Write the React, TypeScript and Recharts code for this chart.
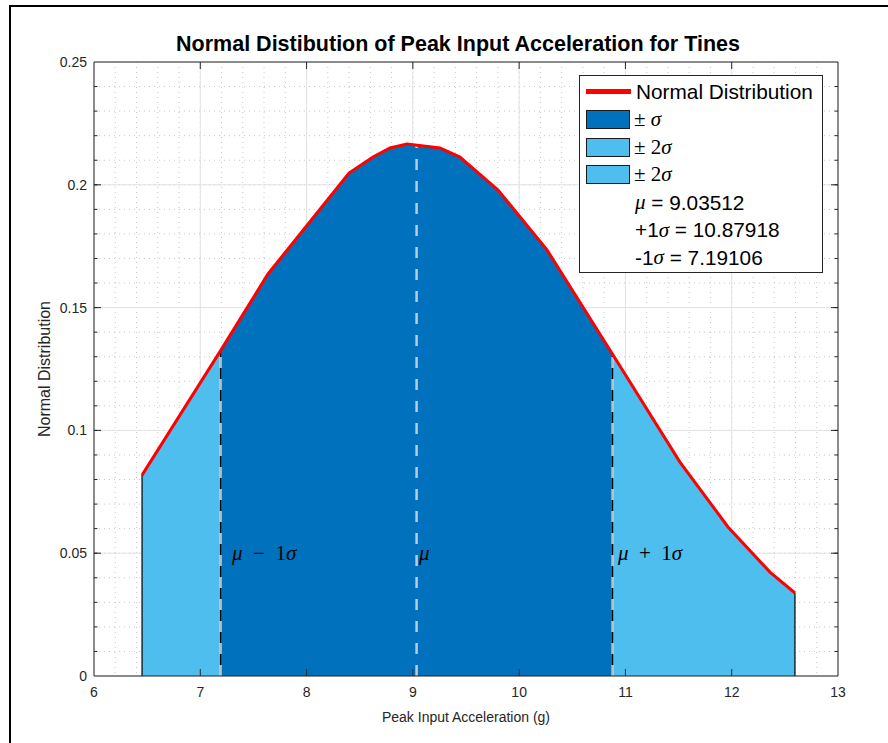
import React from 'react';
import { ComposedChart, Area, Line, XAxis, YAxis, CartesianGrid, ReferenceLine, ReferenceDot, Legend } from 'recharts';

// sample points (x in g, y = normal pdf)
const peakAccel = [6.452, 7.19106, 7.637, 8.399, 8.625, 8.785, 8.945, 9.255, 9.443, 9.801, 10.262, 10.87918, 11.513, 11.965, 12.36, 12.595];
const normalPdf = [0.0818, 0.1325, 0.1637, 0.2048, 0.2113, 0.215, 0.2166, 0.215, 0.2113, 0.1979, 0.1735, 0.131, 0.0871, 0.0607, 0.0423, 0.0338];

const mu = 9.03512;
const muPeak = 0.2164;
const minusSigma = 7.19106;
const plusSigma = 10.87918;

const xDomain = [6, 13];
const yDomain = [0, 0.25];
const xTicks = [6, 7, 8, 9, 10, 11, 12, 13];
const yTicks = [0, 0.05, 0.1, 0.15, 0.2, 0.25];
const xMinorStep = 0.2;
const yMinorStep = 0.01;

const labelXs = [7.308, 9.067, 10.939];
const labelY = 0.05;

const legendNames = ['Normal Distribution', '\u00b1\u00a0', '\u00b1\u00a02', '\u00b1\u00a02'];
const statValues = ['9.03512', '10.87918', '7.19106'];

const DARK = '#0072BD';
const LIGHT = '#4DBEEE';
const AXIS = '#262626';
const SANS = '"Liberation Sans", Arial, Helvetica, sans-serif';
const SERIF = '"Liberation Serif", "Times New Roman", serif';

const data = peakAccel.map((x, i) => ({
  x,
  pdf: normalPdf[i],
  left: x <= minusSigma ? normalPdf[i] : null,
  mid: x >= minusSigma && x <= plusSigma ? normalPdf[i] : null,
  right: x >= plusSigma ? normalPdf[i] : null,
}));

const xMinor: number[] = [];
for (let v = xDomain[0] + xMinorStep; v < xDomain[1] - 1e-6; v += xMinorStep) xMinor.push(+v.toFixed(2));
const yMinor: number[] = [];
for (let v = yDomain[0] + yMinorStep; v < yDomain[1] - 1e-6; v += yMinorStep) yMinor.push(+v.toFixed(3));

const iLow = peakAccel.indexOf(minusSigma);
const iHigh = peakAccel.indexOf(plusSigma);
const last = peakAccel.length - 1;

const edges = [
  { x: peakAccel[0], y: normalPdf[0] },
  { x: minusSigma, y: normalPdf[iLow] },
  { x: plusSigma, y: normalPdf[iHigh] },
  { x: peakAccel[last], y: normalPdf[last] },
];
const dashed = [
  { x: minusSigma, y: normalPdf[iLow] },
  { x: mu, y: muPeak },
  { x: plusSigma, y: normalPdf[iHigh] },
];

const labelParts = [
  [['\u03bc', true], ['\u2002\u2212\u20021', false], ['\u03c3', true]],
  [['\u03bc', true]],
  [['\u03bc', true], ['\u2002+\u20021', false], ['\u03c3', true]],
] as [string, boolean][][];

const mathLabel = (parts: [string, boolean][]) => (props: any) => {
  const vb = props.viewBox || {};
  return (
    <text x={vb.x} y={(vb.y ?? 0) + (vb.height ?? 0) / 2} dy={7} fontFamily={SERIF} fontSize={21} fill="#000">
      {parts.map(([t, it], k) => (
        <tspan key={k} fontStyle={it ? 'italic' : 'normal'}>{t}</tspan>
      ))}
    </text>
  );
};

// inward tick marks on both opposite edges of the plot box
const tickShape = (len: number, vertical: boolean) => (p: any) => {
  if (vertical) {
    const top = Math.min(p.y1, p.y2);
    const bot = Math.max(p.y1, p.y2);
    return (
      <g stroke={AXIS} strokeWidth={1}>
        <line x1={p.x1} x2={p.x1} y1={bot} y2={bot - len} />
        <line x1={p.x1} x2={p.x1} y1={top} y2={top + len} />
      </g>
    );
  }
  const l = Math.min(p.x1, p.x2);
  const r = Math.max(p.x1, p.x2);
  return (
    <g stroke={AXIS} strokeWidth={1}>
      <line x1={l} x2={l + len} y1={p.y1} y2={p.y1} />
      <line x1={r} x2={r - len} y1={p.y1} y2={p.y1} />
    </g>
  );
};

const Swatch = ({ color }: { color: string }) => (
  <span style={{ display: 'inline-block', width: 44, height: 19, background: color, border: '1px solid #1a1a1a', boxSizing: 'border-box', marginRight: 4 }} />
);

const rowStyle: React.CSSProperties = { height: 27.7, display: 'flex', alignItems: 'center', whiteSpace: 'nowrap' };
const sig = <span style={{ fontFamily: SERIF, fontStyle: 'italic', fontSize: 21 }}>{'\u03c3'}</span>;

const LegendBox = () => (
  <div style={{ width: 244, height: 198, border: `1px solid ${AXIS}`, background: '#fff', boxSizing: 'border-box', padding: '2px 0 0 6px', fontFamily: SANS, fontSize: 20.8, color: '#000' }}>
    <div style={rowStyle}>
      <span style={{ display: 'inline-block', width: 45, height: 5, background: '#ff0000', marginRight: 5 }} />
      {legendNames[0]}
    </div>
    {[DARK, LIGHT, LIGHT].map((c, i) => (
      <div key={i} style={rowStyle}>
        <Swatch color={c} />
        <span style={{ fontFamily: SERIF, fontSize: 21 }}>{legendNames[i + 1]}</span>
        {sig}
      </div>
    ))}
    <div style={{ ...rowStyle, paddingLeft: 49 }}>
      <span style={{ fontFamily: SERIF, fontStyle: 'italic', fontSize: 21 }}>{'\u03bc'}</span>&nbsp;= {statValues[0]}
    </div>
    <div style={{ ...rowStyle, paddingLeft: 49 }}>
      +1{sig}&nbsp;= {statValues[1]}
    </div>
    <div style={{ ...rowStyle, paddingLeft: 49 }}>
      -1{sig}&nbsp;= {statValues[2]}
    </div>
  </div>
);

// minor grid positions, mapped onto the plot box the chart hands us
const minorX = ({ offset }: any) =>
  xMinor.map((v) => offset.left + ((v - xDomain[0]) / (xDomain[1] - xDomain[0])) * offset.width);
const minorY = ({ offset }: any) =>
  yMinor.map((v) => offset.top + offset.height - ((v - yDomain[0]) / (yDomain[1] - yDomain[0])) * offset.height);

export default function App() {
  return (
    <div style={{ position: 'absolute', left: 0, top: 0, width: 888, height: 743, background: '#fff', overflow: 'hidden' }}>
      <div style={{ position: 'absolute', left: 9, top: 5, right: -10, bottom: -10, borderTop: '2px solid #000', borderLeft: '2px solid #000' }} />
      <div style={{ position: 'absolute', left: 72, width: 772, top: 34, textAlign: 'center', fontFamily: SANS, fontWeight: 'bold', fontSize: 21.5, lineHeight: '21px', color: '#000' }}>
        Normal Distibution of Peak Input Acceleration for Tines
      </div>
      <ComposedChart width={888} height={743} data={data} margin={{ top: 62, right: 50, bottom: 17, left: 34 }} style={{ position: 'absolute', left: 0, top: 0 }}>
        <CartesianGrid stroke="#c8c8c8" strokeDasharray="1 4" verticalCoordinatesGenerator={minorX} horizontalCoordinatesGenerator={minorY} />
        <CartesianGrid stroke="#e2e2e2" />
        <XAxis
          dataKey="x"
          type="number"
          domain={xDomain}
          ticks={xTicks}
          allowDataOverflow
          height={50}
          tickLine={false}
          tickSize={0}
          tickMargin={11}
          stroke={AXIS}
          tick={{ fill: AXIS, fontSize: 14, fontFamily: SANS }}
          label={{ value: 'Peak Input Acceleration (g)', position: 'insideBottom', offset: 4, fill: AXIS, fontSize: 14, fontFamily: SANS }}
        />
        <YAxis
          type="number"
          domain={yDomain}
          ticks={yTicks}
          allowDataOverflow
          width={60}
          tickLine={false}
          tickSize={0}
          tickMargin={7}
          stroke={AXIS}
          tick={{ fill: AXIS, fontSize: 14, fontFamily: SANS }}
          label={{ value: 'Normal Distribution', angle: -90, position: 'insideLeft', offset: 10, fill: AXIS, fontSize: 16, fontFamily: SANS, style: { textAnchor: 'middle' } }}
        />
        <Area dataKey="left" type="linear" stroke="#000" strokeWidth={1} fill={LIGHT} fillOpacity={1} isAnimationActive={false} />
        <Area dataKey="mid" type="linear" stroke="#000" strokeWidth={1} fill={DARK} fillOpacity={1} isAnimationActive={false} />
        <Area dataKey="right" type="linear" stroke="#000" strokeWidth={1} fill={LIGHT} fillOpacity={1} isAnimationActive={false} />
        {edges.map((e, i) => (
          <ReferenceLine key={'e' + i} segment={[{ x: e.x, y: 0 }, { x: e.x, y: e.y }]} stroke="#000" strokeWidth={1.2} />
        ))}
        {dashed.map((e, i) => (
          <ReferenceLine key={'d' + i} segment={[{ x: e.x, y: 0 }, { x: e.x, y: e.y }]} stroke="#dcdcdc" strokeOpacity={0.85} strokeWidth={2.5} strokeDasharray="11 11" />
        ))}
        <Line dataKey="pdf" type="linear" stroke="#ff0000" strokeWidth={3} dot={false} activeDot={false} isAnimationActive={false} />
        <ReferenceLine y={yDomain[1]} stroke={AXIS} strokeWidth={1} />
        <ReferenceLine x={xDomain[1]} stroke={AXIS} strokeWidth={1} />
        {xTicks.slice(1, -1).map((v) => (
          <ReferenceLine key={'tx' + v} x={v} stroke={AXIS} shape={tickShape(7, true)} />
        ))}
        {yTicks.slice(1, -1).map((v) => (
          <ReferenceLine key={'ty' + v} y={v} stroke={AXIS} shape={tickShape(7, false)} />
        ))}
        {yMinor.map((v) => (
          <ReferenceLine key={'my' + v} y={v} stroke={AXIS} shape={tickShape(3.5, false)} />
        ))}
        {labelXs.map((x, i) => (
          <ReferenceDot key={'l' + i} x={x} y={labelY} r={1} fill="none" stroke="none" label={mathLabel(labelParts[i])} />
        ))}
        <Legend
          layout="horizontal"
          verticalAlign="middle"
          align="center"
          wrapperStyle={{ position: 'absolute', left: 579, top: 75, width: 244, height: 198 }}
          content={() => <LegendBox />}
        />
      </ComposedChart>
    </div>
  );
}
